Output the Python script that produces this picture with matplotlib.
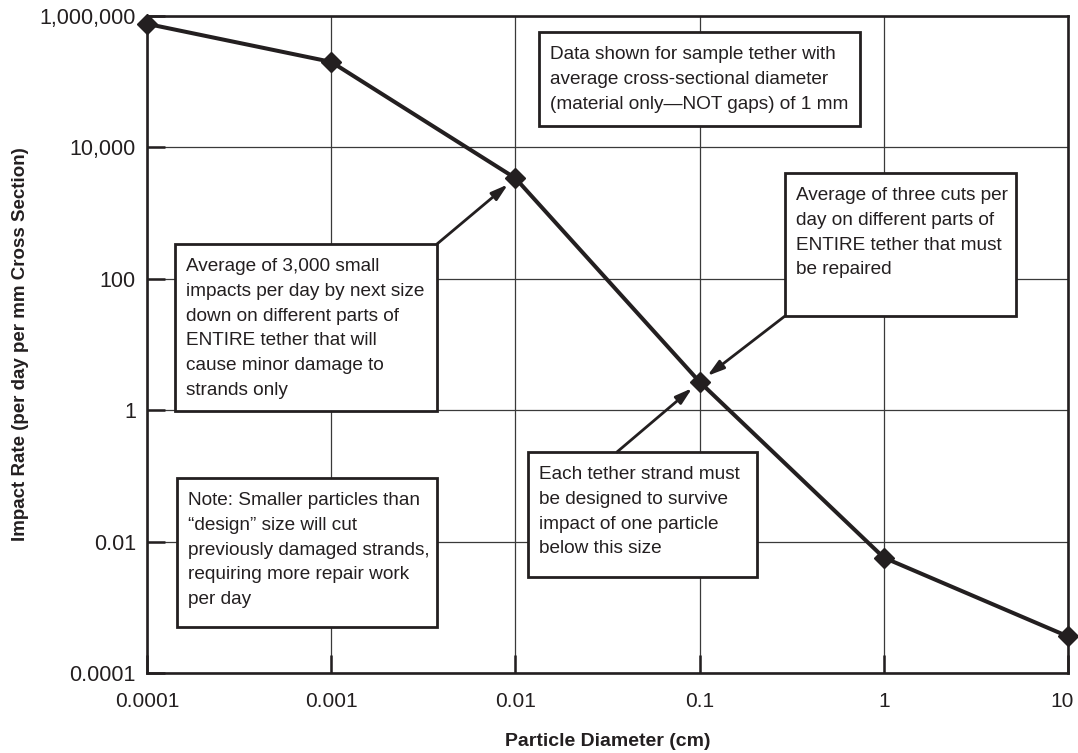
import matplotlib
matplotlib.use("Agg")
import matplotlib.pyplot as plt
from matplotlib.patches import Rectangle
from matplotlib.ticker import FixedLocator, FixedFormatter, NullLocator
from matplotlib.transforms import ScaledTranslation

# Dados
diametro = [0.0001, 0.001, 0.01, 0.1, 1, 10]
taxa = [7.6e5, 2.0e5, 3.4e3, 2.7, 5.7e-3, 3.6e-4]

xtick_vals = [0.0001, 0.001, 0.01, 0.1, 1, 10]
xtick_labels = ["0.0001", "0.001", "0.01", "0.1", "1", "10"]
ytick_vals = [1e-4, 1e-2, 1, 1e2, 1e4, 1e6]
ytick_labels = ["0.0001", "0.01", "1", "100", "10,000", "1,000,000"]

nota_topo = ("Data shown for sample tether with\n"
             "average cross-sectional diameter\n"
             "(material only\u2014NOT gaps) of 1 mm")
nota_cortes = ("Average of three cuts per\n"
               "day on different parts of\n"
               "ENTIRE tether that must\n"
               "be repaired")
nota_impactos = ("Average of 3,000 small\n"
                 "impacts per day by next size\n"
                 "down on different parts of\n"
                 "ENTIRE tether that will\n"
                 "cause minor damage to\n"
                 "strands only")
nota_menores = ("Note: Smaller particles than\n"
                "\u201cdesign\u201d size will cut\n"
                "previously damaged strands,\n"
                "requiring more repair work\n"
                "per day")
nota_fio = ("Each tether strand must\n"
            "be designed to survive\n"
            "impact of one particle\n"
            "below this size")

plt.rcParams['font.family'] = ['Liberation Sans', 'DejaVu Sans']
cor = '#231f20'

W, H = 1078, 753
fig = plt.figure(figsize=(W / 100, H / 100), dpi=100)
L, R, T, B = 147, 1068, 16, 673
ax = fig.add_axes([L / W, 1 - B / H, (R - L) / W, (B - T) / H])
ax.set_xscale('log')
ax.set_yscale('log')
ax.set_xlim(1e-4, 10)
ax.set_ylim(1e-4, 1e6)

ax.xaxis.set_major_locator(FixedLocator(xtick_vals))
ax.xaxis.set_major_formatter(FixedFormatter(xtick_labels))
ax.yaxis.set_major_locator(FixedLocator(ytick_vals))
ax.yaxis.set_major_formatter(FixedFormatter(ytick_labels))
ax.xaxis.set_minor_locator(NullLocator())
ax.yaxis.set_minor_locator(NullLocator())

ax.grid(True, which='major', color='#3a3a3a', linewidth=0.9)
ax.tick_params(axis='both', direction='in', length=13, width=1.8, color=cor,
               labelcolor=cor)
ax.tick_params(axis='x', pad=14, labelsize=15)
ax.tick_params(axis='y', pad=8, labelsize=15.5)
for s in ax.spines.values():
    s.set_linewidth(1.9)
    s.set_color(cor)
    s.set_zorder(5)

ax.plot(diametro, taxa, color=cor, linewidth=2.9, marker='D', markersize=10,
        clip_on=False, zorder=6)

ax.set_xlabel("Particle Diameter (cm)", fontsize=14, fontweight='bold', color=cor)
ax.set_ylabel("Impact Rate (per day per mm Cross Section)", fontsize=13.5,
              fontweight='bold', color=cor)
ax.xaxis.set_label_coords(0.5, (B - 733) / (B - T))
ax.yaxis.set_label_coords((29 - L) / (R - L), 0.5)

# puxa o ultimo rotulo do eixo x um pouco para dentro da figura
ultimo = ax.get_xticklabels()[-1]
ultimo.set_transform(ultimo.get_transform() +
                     ScaledTranslation(-6 / 100, 0, fig.dpi_scale_trans))


def px(xp, yp):
    # pixel da figura -> fracao dos eixos
    return (xp - L) / (R - L), (B - yp) / (B - T)


def caixa(x0, y0, x1, y1, texto):
    a, b = px(x0, y1)
    c, d = px(x1, y0)
    ax.add_patch(Rectangle((a, b), c - a, d - b, transform=ax.transAxes,
                           facecolor='white', edgecolor=cor, linewidth=2.0,
                           zorder=7))
    tx, ty = px(x0 + 11, y0 + 14)
    ax.text(tx, ty, texto, transform=ax.transAxes, ha='left', va='top',
            fontsize=13.7, color=cor, linespacing=1.60, zorder=8)


def seta(xp, yp, xd, yd):
    ax.annotate('', xy=(xd, yd), xycoords='data',
                xytext=px(xp, yp), textcoords='axes fraction',
                arrowprops=dict(arrowstyle='-|>,head_length=1.0,head_width=0.3',
                                color=cor, linewidth=2.0, shrinkA=0, shrinkB=7),
                zorder=8)


caixa(539, 32, 860, 126, nota_topo)
caixa(785, 173, 1016, 316, nota_cortes)
caixa(175, 244, 437, 411, nota_impactos)
caixa(177, 478, 437, 627, nota_menores)
caixa(528, 452, 757, 577, nota_fio)

seta(437, 244, diametro[2], taxa[2])
seta(785, 316, diametro[3], taxa[3])
seta(617, 452, diametro[3], taxa[3])

fig.savefig("out.png", dpi=100)
